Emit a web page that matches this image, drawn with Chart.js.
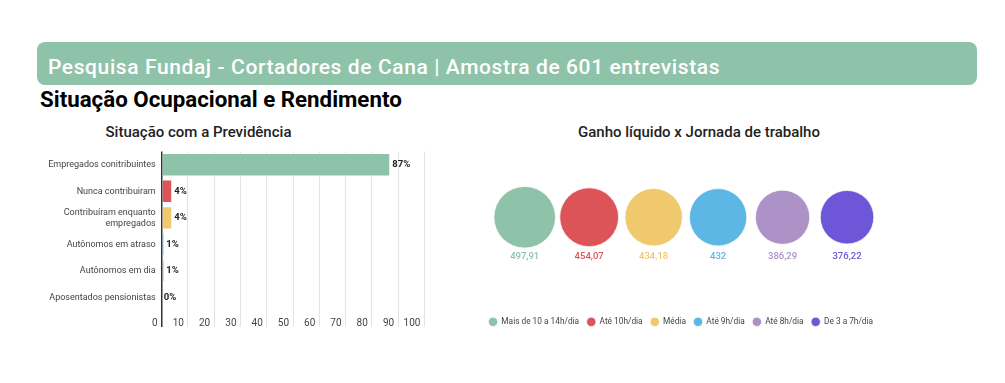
<!DOCTYPE html>
<html>
<head>
<meta charset="utf-8">
<script src="https://cdn.jsdelivr.net/npm/chart.js@4.4.1/dist/chart.umd.min.js"></script>
<style>
  html, body { margin: 0; padding: 0; background: #fff; width: 1005px; height: 383px; overflow: hidden; font-family: Roboto, sans-serif; }
  .abs { position: absolute; }
  #header { left: 37px; top: 42px; width: 940px; height: 43px; background: #8fc3a9; border-radius: 8px; }
  #headerText { left: 48px; top: 57px; font: 500 21px/21px Roboto, sans-serif; letter-spacing: 0.6px; color: #fff; white-space: nowrap; }
  #section { left: 40px; top: 88px; font: 700 22.3px/22.3px Roboto, sans-serif; color: #000; white-space: nowrap; }
  .sub { top: 124.7px; width: 300px; text-align: center; font: 500 15px/15px Roboto, sans-serif; color: #222; white-space: nowrap; }
  #leftTitle { left: 48.5px; }
  #rightTitle { left: 549px; }
  #c1wrap { left: 0; top: 140px; width: 450px; height: 200px; }
  #c2wrap { left: 440px; top: 100px; width: 480px; height: 240px; }
</style>
</head>
<body>
<div id="header" class="abs"></div>
<div id="headerText" class="abs">Pesquisa Fundaj - Cortadores de Cana | Amostra de 601 entrevistas</div>
<div id="section" class="abs">Situação Ocupacional e Rendimento</div>
<div id="leftTitle" class="abs sub">Situação com a Previdência</div>
<div id="rightTitle" class="abs sub">Ganho líquido x Jornada de trabalho</div>
<div id="c1wrap" class="abs"><canvas id="c1" width="450" height="200"></canvas></div>
<div id="c2wrap" class="abs"><canvas id="c2" width="480" height="240"></canvas></div>
<script>
// ---- Data ----
const prevCategories = ["Empregados conitribuintes", "Nunca contribuiram", ["Contribuíram enquanto", "empregados"], "Autônomos em atraso", "Autônomos em dia", "Aposentados pensionistas"];
const prevValues = [87, 4, 4, 1, 1, 0];
const prevLabels = ["87%", "4%", "4%", "1%", "1%", "0%"];
const prevColors = ["#8fc3a9", "#dd5458", "#f0c96f", "#5db7e4", "#ac92c6", "#6e56d9"];
const xTickValues = [0, 10, 20, 30, 40, 50, 60, 70, 80, 90, 100];

const jornadaLabels = ["Mais de 10 a 14h/dia", "Até 10h/dia", "Média", "Até 9h/dia", "Até 8h/dia", "De 3 a 7h/dia"];
const ganhoValues = [497.91, 454.07, 434.18, 432, 386.29, 376.22];
const ganhoText = ["497,91", "454,07", "434,18", "432", "386,29", "376,22"];
const ganhoColors = ["#8fc3a9", "#dd5458", "#f0c96f", "#5db7e4", "#ac92c6", "#6e56d9"];

Chart.defaults.font.family = "Roboto, sans-serif";
Chart.defaults.animation = false;

// ---- Left: horizontal bar chart ----
const barLabelPlugin = {
  id: 'barLabels',
  afterDatasetsDraw(chart) {
    const ctx = chart.ctx;
    const meta = chart.getDatasetMeta(0);
    ctx.save();
    ctx.font = "700 9.5px Roboto, sans-serif";
    ctx.fillStyle = "#222";
    ctx.textAlign = "left";
    ctx.textBaseline = "middle";
    meta.data.forEach((bar, i) => {
      ctx.fillText(prevLabels[i], bar.x + 2, bar.y);
    });
    ctx.restore();
  }
};

new Chart(document.getElementById('c1'), {
  type: 'bar',
  data: {
    labels: prevCategories,
    datasets: [{
      data: prevValues,
      backgroundColor: prevColors,
      borderColor: "rgba(255,255,255,0.6)",
      borderWidth: 1,
      barPercentage: 0.88,
      categoryPercentage: 1
    }]
  },
  options: {
    indexAxis: 'y',
    responsive: false,
    events: [],
    layout: { padding: { left: 0, top: 9, right: 25.6, bottom: 0 } },
    plugins: { legend: { display: false }, tooltip: { enabled: false } },
    scales: {
      x: {
        min: 0, max: 100,
        afterBuildTicks(scale) { scale.ticks = xTickValues.map(v => ({ value: v })); },
        afterFit(scale) { scale.height = 29; },
        border: { display: false },
        grid: {
          color: (c) => (c.tick && c.tick.value === 0) ? "#333" : "#e3e3e3",
          lineWidth: (c) => (c.tick && c.tick.value === 0) ? 1.5 : 1,
          tickLength: 16
        },
        ticks: { align: 'end', labelOffset: -4, padding: -9.5, color: "#444", font: { size: 10 } }
      },
      y: {
        afterFit(scale) { scale.width = 161.7; },
        border: { display: false },
        grid: { display: false, drawTicks: false },
        ticks: { padding: 6, color: "#444", font: { size: 9 } }
      }
    }
  },
  plugins: [barLabelPlugin]
});

// ---- Right: bubble row ----
const bubbleValuePlugin = {
  id: 'bubbleValues',
  afterDatasetsDraw(chart) {
    const ctx = chart.ctx;
    ctx.save();
    ctx.font = "500 9.5px Roboto, sans-serif";
    ctx.textAlign = "center";
    ctx.textBaseline = "middle";
    chart.data.datasets.forEach((ds, i) => {
      const el = chart.getDatasetMeta(i).data[0];
      ctx.fillStyle = ganhoColors[i];
      ctx.fillText(ganhoText[i], el.x, el.y + 39);
    });
    ctx.restore();
  }
};

new Chart(document.getElementById('c2'), {
  type: 'bubble',
  data: {
    datasets: jornadaLabels.map((lab, i) => ({
      label: lab,
      data: [{ x: i, y: 0, r: 1.38 * Math.sqrt(ganhoValues[i]) }],
      backgroundColor: ganhoColors[i],
      borderColor: "rgba(255,255,255,0.7)",
      borderWidth: 1
    }))
  },
  options: {
    responsive: false,
    events: [],
    clip: false,
    layout: { autoPadding: false, padding: { left: 12, right: 10, top: 24.8, bottom: 4 } },
    plugins: {
      tooltip: { enabled: false },
      legend: {
        position: 'bottom',
        labels: {
          usePointStyle: true,
          pointStyle: 'circle',
          boxWidth: 8.3, boxHeight: 6.6,
          padding: 8,
          color: "#444",
          font: { size: 8.3 }
        }
      }
    },
    scales: {
      x: { display: false, min: -1.128, max: 5.977 },
      y: { display: false, min: -1, max: 1 }
    }
  },
  plugins: [bubbleValuePlugin]
});
</script>
</body>
</html>
